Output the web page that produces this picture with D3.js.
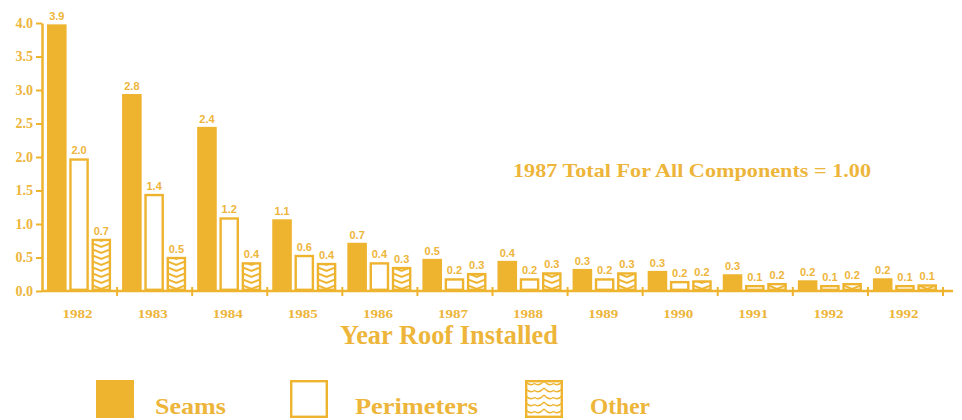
<!DOCTYPE html>
<html>
<head>
<meta charset="utf-8">
<script src="https://cdn.jsdelivr.net/npm/d3@7"></script>
<style>
  body { margin: 0; background: #fff; }
  svg text { fill: #EDB53A; }
</style>
</head>
<body>
<div id="chart"></div>
<script>
//Datos
const years = ['1982','1983','1984','1985','1986','1987','1988','1989','1990','1991','1992','1992'];
const seams = [3.98, 2.94, 2.45, 1.07, 0.72, 0.48, 0.45, 0.33, 0.30, 0.25, 0.16, 0.19];
const perimeters = [1.98, 1.45, 1.10, 0.54, 0.43, 0.19, 0.19, 0.19, 0.15, 0.09, 0.09, 0.09];
const other = [0.78, 0.51, 0.43, 0.42, 0.36, 0.27, 0.28, 0.28, 0.16, 0.12, 0.12, 0.10];
const seamsLabels = ['3.9','2.8','2.4','1.1','0.7','0.5','0.4','0.3','0.3','0.3','0.2','0.2'];
const perimLabels = ['2.0','1.4','1.2','0.6','0.4','0.2','0.2','0.2','0.2','0.1','0.1','0.1'];
const otherLabels = ['0.7','0.5','0.4','0.4','0.3','0.3','0.3','0.3','0.2','0.2','0.2','0.1'];
const series = ['Seams','Perimeters','Other'];
const yTicks = [0, 0.5, 1, 1.5, 2, 2.5, 3, 3.5, 4];

//Colores
const GOLD = '#EEB42F', GOLD_TEXT = '#EDB53A';
const SERIF = '"Liberation Serif", "Times New Roman", serif';

let width = 962, height = 420;
let svg = d3.select('#chart').append('svg')
    .attr('width', width)
    .attr('height', height);

let x = d3.scaleBand()
    .domain(d3.range(years.length))
    .range([42, 943])
    .paddingInner(0)
    .paddingOuter(0);

let xs = d3.scaleBand()
    .domain(series)
    .range([5, x.bandwidth() - 6])
    .paddingInner(0.12);

let y = d3.scaleLinear()
    .domain([0, 4])
    .range([291, 23]);

//Trama para "Other"
let defs = svg.append('defs');
let pat = defs.append('pattern')
    .attr('id', 'chevron')
    .attr('patternUnits', 'userSpaceOnUse')
    .attr('width', xs.bandwidth())
    .attr('height', 6);
pat.append('rect').attr('width', xs.bandwidth()).attr('height', 6).attr('fill', '#fff');
pat.append('path')
    .attr('d', 'M0,0 L' + xs.bandwidth() / 2 + ',4 L' + xs.bandwidth() + ',0')
    .attr('fill', 'none').attr('stroke', GOLD).attr('stroke-width', 2);

let patLeg = defs.append('pattern')
    .attr('id', 'wave')
    .attr('patternUnits', 'userSpaceOnUse')
    .attr('width', 19)
    .attr('height', 7);
patLeg.append('rect').attr('width', 19).attr('height', 7).attr('fill', '#fff');
patLeg.append('path')
    .attr('d', 'M0,1 Q5,7 9.5,3.5 Q14,7 19,1')
    .attr('fill', 'none').attr('stroke', GOLD).attr('stroke-width', 1.3);

//Barras
let groups = svg.selectAll('.grp')
    .data(years)
    .enter()
    .append('g')
    .attr('transform', function(d, i) { return 'translate(' + x(i) + ',0)'; });

groups.append('rect')
    .attr('x', xs('Seams'))
    .attr('y', function(d, i) { return y(seams[i]); })
    .attr('width', xs.bandwidth())
    .attr('height', function(d, i) { return y(0) - y(seams[i]); })
    .attr('fill', GOLD);

groups.append('rect')
    .attr('x', xs('Perimeters') + 1.2)
    .attr('y', function(d, i) { return y(perimeters[i]) + 1.2; })
    .attr('width', xs.bandwidth() - 2.4)
    .attr('height', function(d, i) { return Math.max(0, y(0) - y(perimeters[i]) - 2.4); })
    .attr('fill', '#fff')
    .attr('stroke', GOLD)
    .attr('stroke-width', 2.4);

groups.append('g')
    .attr('transform', 'translate(' + xs('Other') + ',' + y(0) + ')')
    .append('rect')
    .attr('x', 1.2)
    .attr('y', function(d, i) { return y(other[i]) - y(0) + 1.2; })
    .attr('width', xs.bandwidth() - 2.4)
    .attr('height', function(d, i) { return Math.max(0, y(0) - y(other[i]) - 2.4); })
    .attr('fill', 'url(#chevron)')
    .attr('stroke', GOLD)
    .attr('stroke-width', 2.4);

//Etiquetas de valor
let valueSets = [[seams, seamsLabels, 'Seams'], [perimeters, perimLabels, 'Perimeters'], [other, otherLabels, 'Other']];
valueSets.forEach(function(s) {
    groups.append('text')
        .attr('x', xs(s[2]) + xs.bandwidth() / 2)
        .attr('y', function(d, i) { return y(s[0][i]) - 4; })
        .attr('text-anchor', 'middle')
        .style('font-family', '"Liberation Sans", Arial, sans-serif')
        .style('font-weight', 'bold')
        .style('font-size', '11px')
        .text(function(d, i) { return s[1][i]; });
});

//Eje Y
let yAxis = svg.append('g')
    .attr('transform', 'translate(42,0)')
    .call(d3.axisLeft(y).tickValues(yTicks).tickFormat(d3.format('.1f')).tickSize(6).tickSizeOuter(0).tickPadding(3));
yAxis.select('.domain').attr('stroke', GOLD).attr('stroke-width', 2.5);
yAxis.selectAll('.tick line').attr('stroke', GOLD).attr('stroke-width', 2);
yAxis.selectAll('.tick text')
    .style('font-family', SERIF)
    .style('font-weight', 'bold')
    .style('font-size', '14px')
    .attr('fill', GOLD_TEXT);

//Eje X
svg.append('line')
    .attr('x1', 42).attr('x2', 953)
    .attr('y1', y(0)).attr('y2', y(0))
    .attr('stroke', GOLD).attr('stroke-width', 2.5);

svg.selectAll('.xtick')
    .data(years)
    .enter()
    .append('line')
    .attr('x1', function(d, i) { return x(i) + x.bandwidth(); })
    .attr('x2', function(d, i) { return x(i) + x.bandwidth(); })
    .attr('y1', y(0) - 4)
    .attr('y2', y(0) + 5)
    .attr('stroke', GOLD).attr('stroke-width', 2);

svg.selectAll('.xlab')
    .data(years)
    .enter()
    .append('text')
    .attr('x', function(d, i) { return x(i) + x.bandwidth() / 2 - 17; })
    .attr('y', 318)
    .attr('textLength', 30)
    .attr('lengthAdjust', 'spacingAndGlyphs')
    .style('font-family', SERIF)
    .style('font-weight', 'bold')
    .style('font-size', '12.5px')
    .text(function(d) { return d; });

svg.append('text')
    .attr('x', 340)
    .attr('y', 344)
    .attr('textLength', 218)
    .attr('lengthAdjust', 'spacingAndGlyphs')
    .style('font-family', SERIF)
    .style('font-weight', 'bold')
    .style('font-size', '26.5px')
    .text('Year Roof Installed');

//Nota
svg.append('text')
    .attr('x', 513)
    .attr('y', 177)
    .attr('textLength', 358)
    .attr('lengthAdjust', 'spacingAndGlyphs')
    .style('font-family', SERIF)
    .style('font-weight', 'bold')
    .style('font-size', '19.5px')
    .text('1987 Total For All Components = 1.00');

//Leyenda
const legendX = [96, 290, 525];
const legendTextX = [155, 355, 590];
const legendTextW = [71, 123, 60];
let leg = svg.selectAll('.leg')
    .data(series)
    .enter()
    .append('g')
    .attr('transform', function(d, i) { return 'translate(' + legendX[i] + ',380)'; });

leg.append('rect')
    .attr('x', function(d) { return d == 'Seams' ? 0 : 1.2; })
    .attr('y', function(d) { return d == 'Seams' ? 0 : 1.2; })
    .attr('width', function(d) { return d == 'Seams' ? 38 : 35.6; })
    .attr('height', function(d) { return d == 'Seams' ? 38 : 35.6; })
    .attr('fill', function(d) { return d == 'Seams' ? GOLD : (d == 'Other' ? 'url(#wave)' : '#fff'); })
    .attr('stroke', function(d) { return d == 'Seams' ? 'none' : GOLD; })
    .attr('stroke-width', 2.4);

leg.append('text')
    .attr('x', function(d, i) { return legendTextX[i] - legendX[i]; })
    .attr('y', 34)
    .attr('textLength', function(d, i) { return legendTextW[i]; })
    .attr('lengthAdjust', 'spacingAndGlyphs')
    .style('font-family', SERIF)
    .style('font-weight', 'bold')
    .style('font-size', '23px')
    .text(function(d) { return d; });
</script>
</body>
</html>
